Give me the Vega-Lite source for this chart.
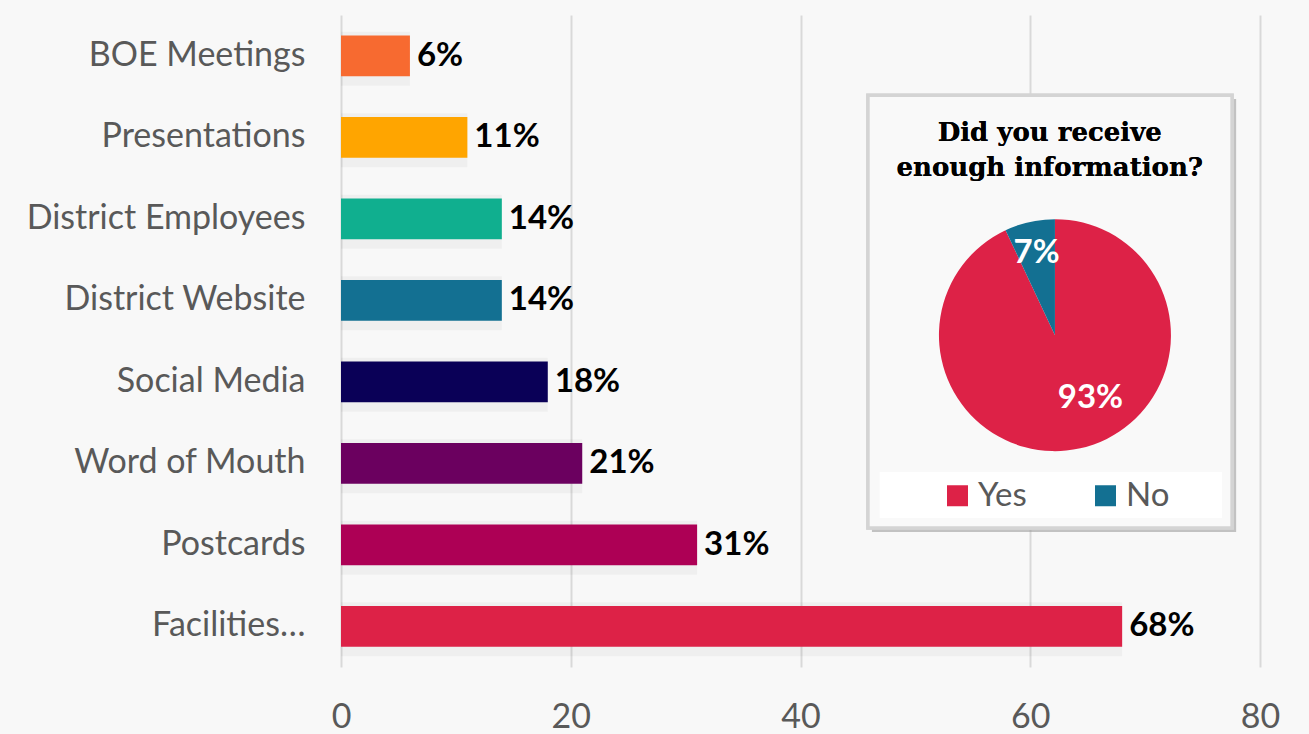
{
  "$schema": "https://vega.github.io/schema/vega-lite/v6.json",
  "description": "How respondents heard about the facilities plan, with an inset pie on whether they got enough information.",
  "width": 919,
  "height": 652,
  "autosize": {"type": "none"},
  "padding": {"left": 341, "top": 15, "right": 49, "bottom": 67},
  "background": "#f8f8f8",
  "config": {"view": {"stroke": null}, "font": "Lato"},
  "layer": [
    {
      "data": {
        "values": [
          {"source": "BOE Meetings", "share": 0.06},
          {"source": "Presentations", "share": 0.11},
          {"source": "District Employees", "share": 0.14},
          {"source": "District Website", "share": 0.14},
          {"source": "Social Media", "share": 0.18},
          {"source": "Word of Mouth", "share": 0.21},
          {"source": "Postcards", "share": 0.31},
          {"source": "Facilities…", "share": 0.68}
        ]
      },
      "encoding": {
        "y": {
          "field": "source",
          "type": "nominal",
          "sort": null,
          "scale": {"paddingInner": 0.5, "paddingOuter": 0.25},
          "axis": {
            "title": null,
            "ticks": false,
            "domain": false,
            "labelFont": "Lato",
            "labelFontSize": 34,
            "labelColor": "#595959",
            "labelPadding": 36,
            "labelLimit": 400
          }
        },
        "x": {
          "field": "share",
          "type": "quantitative",
          "scale": {"domain": [0, 0.8]},
          "axis": {
            "title": null,
            "values": [0, 0.2, 0.4, 0.6, 0.8],
            "labelExpr": "format(datum.value * 100, '.0f')",
            "labelFlush": false,
            "ticks": false,
            "domain": false,
            "grid": true,
            "gridColor": "#d9d9d9",
            "gridWidth": 2,
            "labelFont": "Lato",
            "labelFontSize": 34,
            "labelColor": "#595959",
            "labelPadding": 33
          }
        }
      },
      "layer": [
        {
          "mark": {"type": "bar", "color": "#000000", "opacity": 0.035, "size": 54, "x2Offset": 5, "yOffset": 3},
          "encoding": {}
        },
        {
          "mark": {"type": "bar"},
          "encoding": {
            "color": {
              "field": "source",
              "type": "nominal",
              "scale": {
                "domain": ["BOE Meetings", "Presentations", "District Employees", "District Website", "Social Media", "Word of Mouth", "Postcards", "Facilities…"],
                "range": ["#f76a30", "#ffa500", "#10af8f", "#137092", "#0a0057", "#6b005f", "#ad0055", "#dd2247"]
              },
              "legend": null
            }
          }
        },
        {
          "mark": {"type": "text", "align": "left", "dx": 7, "font": "Lato", "fontWeight": "bold", "fontSize": 33, "color": "#000000"},
          "encoding": {"text": {"field": "share", "format": ".0%"}}
        }
      ]
    },
    {
      "data": {
        "values": [
          {"answer": "Yes", "share": 0.93},
          {"answer": "No", "share": 0.07}
        ]
      },
      "layer": [
        {
          "mark": {"type": "rect", "color": "#9a9a9a", "opacity": 0.35},
          "encoding": {
            "x": {"datum": 0.4622, "type": "quantitative"},
            "x2": {"datum": 0.7792},
            "y": {"datum": 87.1, "type": "quantitative", "scale": {"domain": [0, 100]}, "axis": null},
            "y2": {"datum": 20.7}
          }
        },
        {
          "mark": {"type": "rect", "fill": "#f9f9f9", "stroke": "#d4d4d4", "strokeWidth": 3.5},
          "encoding": {
            "x": {"datum": 0.4587, "type": "quantitative"},
            "x2": {"datum": 0.7757},
            "y": {"datum": 87.7, "type": "quantitative"},
            "y2": {"datum": 21.3}
          }
        },
        {
          "mark": {"type": "rect", "fill": "#ffffff"},
          "encoding": {
            "x": {"datum": 0.469, "type": "quantitative"},
            "x2": {"datum": 0.767},
            "y": {"datum": 29.9, "type": "quantitative"},
            "y2": {"datum": 22.9}
          }
        },
        {
          "mark": {
            "type": "text",
            "text": "Did you receive\nenough information?",
            "lineBreak": "\n",
            "lineHeight": 35,
            "align": "center",
            "baseline": "middle",
            "font": "DejaVu Serif",
            "fontWeight": "bold",
            "fontSize": 26,
            "color": "#000000"
          },
          "encoding": {
            "x": {"datum": 0.617, "type": "quantitative"},
            "y": {"datum": 81.9, "type": "quantitative"}
          }
        },
        {
          "mark": {"type": "arc", "radius": 116},
          "encoding": {
            "x": {"datum": 0.6215, "type": "quantitative"},
            "y": {"datum": 50.9, "type": "quantitative"},
            "theta": {"field": "share", "type": "quantitative", "stack": true},
            "order": {"field": "share", "sort": "descending"},
            "color": {
              "field": "answer",
              "type": "nominal",
              "sort": ["Yes", "No"],
              "scale": {"domain": ["Yes", "No"], "range": ["#dd2247", "#137092"]},
              "legend": {
                "title": null,
                "orient": "none",
                "direction": "horizontal",
                "legendX": 600,
                "legendY": 464,
                "symbolType": "square",
                "symbolSize": 441,
                "symbolStrokeWidth": 0,
                "symbolOpacity": 1,
                "labelFont": "Lato",
                "labelFontSize": 33,
                "labelColor": "#595959",
                "labelOffset": 4,
                "columnPadding": 62,
                "padding": 0
              }
            }
          }
        },
        {
          "mark": {"type": "text", "radius": 80, "dx": 18, "dy": -15, "font": "Lato", "fontWeight": "bold", "fontSize": 33, "color": "#ffffff"},
          "encoding": {
            "x": {"datum": 0.6215, "type": "quantitative"},
            "y": {"datum": 50.9, "type": "quantitative"},
            "theta": {"field": "share", "type": "quantitative", "stack": true},
            "order": {"field": "share", "sort": "descending"},
            "text": {"field": "share", "format": ".0%"},
            "opacity": {"condition": {"test": "datum.answer === 'Yes'", "value": 1}, "value": 0}
          }
        },
        {
          "mark": {"type": "text", "radius": 84, "font": "Lato", "fontWeight": "bold", "fontSize": 33, "color": "#ffffff"},
          "encoding": {
            "x": {"datum": 0.6215, "type": "quantitative"},
            "y": {"datum": 50.9, "type": "quantitative"},
            "theta": {"field": "share", "type": "quantitative", "stack": true},
            "order": {"field": "share", "sort": "descending"},
            "text": {"field": "share", "format": ".0%"},
            "opacity": {"condition": {"test": "datum.answer === 'No'", "value": 1}, "value": 0}
          }
        }
      ]
    }
  ],
  "resolve": {"scale": {"y": "independent", "color": "independent"}}
}
